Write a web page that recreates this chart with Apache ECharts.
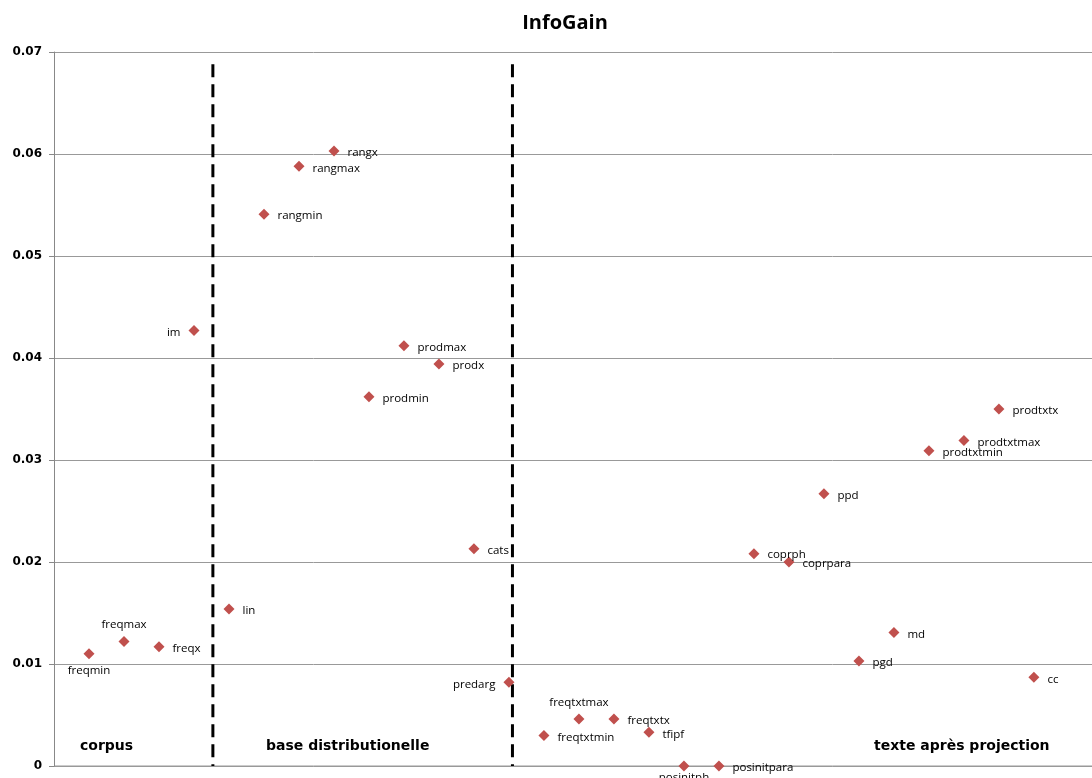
<!DOCTYPE html>
<html><head><meta charset="utf-8">
<script src="https://cdn.jsdelivr.net/npm/echarts@6/dist/echarts.min.js"></script>
<style>html,body{margin:0;padding:0;background:#fff}#c{width:1092px;height:778px}</style>
</head><body><div id="c"></div>
<script>
const names = ['freqmin','freqmax','freqx','im','lin','rangmin','rangmax','rangx','prodmin','prodmax','prodx','cats','predarg','freqtxtmin','freqtxtmax','freqtxtx','tfipf','posinitph','posinitpara','coprph','coprpara','ppd','pgd','md','prodtxtmin','prodtxtmax','prodtxtx','cc'];
const values = [0.0110,0.0122,0.0117,0.0427,0.0154,0.0541,0.0588,0.0603,0.0362,0.0412,0.0394,0.0213,0.0082,0.0030,0.0046,0.0046,0.0033,0.0000,0.0000,0.0208,0.0200,0.0267,0.0103,0.0131,0.0309,0.0319,0.0350,0.0087];
const labelPos = ['bottom','top','right','left','right','right','right','right','right','right','right','right','left','right','top','right','right','bottom','right','right','right','right','right','right','right','right','right','right'];
const separators = [4.54, 13.1];
const sections = ['corpus','base distributionelle','texte après projection'];

const pts = names.map((n,i)=>{
  const side = labelPos[i]==='right' || labelPos[i]==='left';
  return {
    value:[i+1, values[i]], name:n,
    label:{show:true, position:labelPos[i], formatter:n,
      distance: side?8:5, offset: side?[0,2]:[0,0]}
  };
});
pts[17].label.distance = 0;
pts[19].label.offset=[0,1];
pts[20].label.offset=[0,2];

const sepSeries = separators.map(x=>({
  type:'line', data:[[x,0.0688],[x,0]], symbol:'none', silent:true,
  lineStyle:{color:'#000', width:3, type:[13,7]}, z:1
}));

const chart = echarts.init(document.getElementById('c'));
chart.setOption({
  animation:false,
  title:{text:'InfoGain', left:560, top:8, textAlign:'center',
    textStyle:{fontFamily:'Open Sans', fontWeight:'bold', fontSize:20, color:'#000'}},
  grid:{left:54, right:0, top:52, bottom:12},
  xAxis:{type:'value', min:0, max:29.66, axisLine:{show:false}, axisTick:{show:false},
    axisLabel:{show:false}, splitLine:{show:false}},
  yAxis:{type:'value', min:0, max:0.07, interval:0.01,
    axisLine:{show:true, lineStyle:{color:'#888'}},
    axisTick:{show:true, length:5, lineStyle:{color:'#888'}},
    splitLine:{show:true, lineStyle:{color:'#999', width:1}},
    axisLabel:{fontFamily:'DejaVu Sans', fontWeight:'bold', fontSize:12, color:'#000', margin:12}},
  graphic:[
    {type:'text', left:80, top:739, style:{text:sections[0], font:'bold 14px "DejaVu Sans"', fill:'#000'}},
    {type:'text', left:266, top:739, style:{text:sections[1], font:'bold 14px "DejaVu Sans"', fill:'#000'}},
    {type:'text', left:874, top:739, style:{text:sections[2], font:'bold 14px "DejaVu Sans"', fill:'#000'}},
    {type:'line', shape:{x1:54,y1:766,x2:1092,y2:766}, style:{stroke:'#999', lineWidth:1}}
  ],
  series:[
    {type:'scatter', data:pts, symbol:'diamond', symbolSize:11, z:3,
      itemStyle:{color:'#C0504D', opacity:1},
      label:{fontFamily:'Open Sans', fontSize:11.5, color:'#000'}},
    ...sepSeries
  ]
});
</script></body></html>
